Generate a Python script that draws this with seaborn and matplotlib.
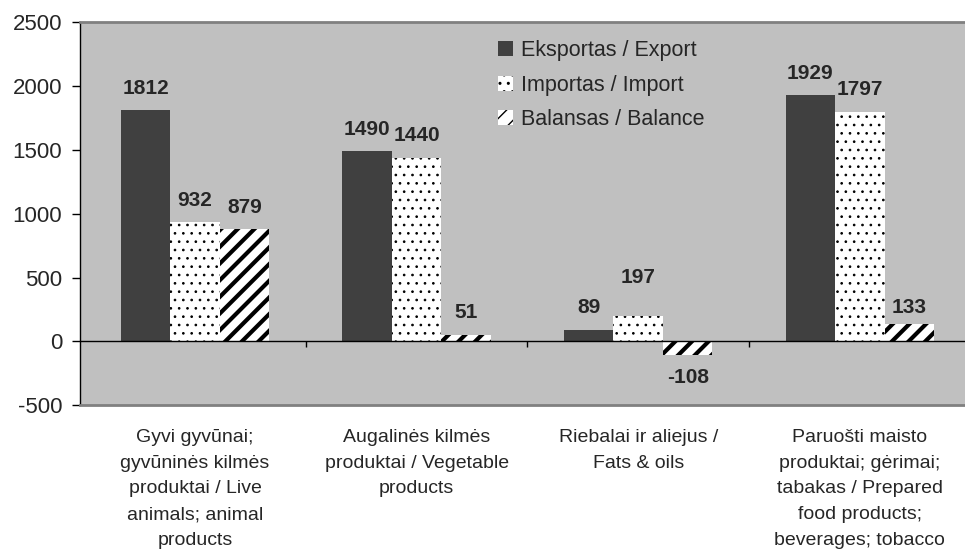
import numpy as np
import pandas as pd
import matplotlib.pyplot as plt
import seaborn as sns

# data
categories = [
    'Gyvi gyvūnai;\ngyvūninės kilmės\nproduktai / Live\nanimals; animal\nproducts',
    'Augalinės kilmės\nproduktai / Vegetable\nproducts',
    'Riebalai ir aliejus /\nFats & oils',
    'Paruošti maisto\nproduktai; gėrimai;\ntabakas / Prepared\nfood products;\nbeverages; tobacco',
]
series = ['Eksportas / Export', 'Importas / Import', 'Balansas / Balance']
export = [1812, 1490, 89, 1929]
imports = [932, 1440, 197, 1797]
balance = [879, 51, -108, 133]

df = pd.DataFrame({
    'category': categories * 3,
    'series': np.repeat(series, len(categories)),
    'value': export + imports + balance,
})

sns.set_style('white')
plt.rcParams['font.family'] = ['Liberation Sans', 'DejaVu Sans']
plt.rcParams['axes.unicode_minus'] = False

fig = plt.figure(figsize=(9.65, 5.55), dpi=100)
ax = fig.add_axes([0.083, 0.27, 0.927, 0.69])

sns.barplot(data=df, x='category', y='value', hue='series',
            palette=['#404040', 'white', 'white'], saturation=1,
            width=0.67, gap=0, errorbar=None, legend=False, ax=ax)

# hatch patterns for import / balance
hatches = [None, '..', '//']
hatch_lw = [1, 0.7, 3]
for cont, h, hl in zip(ax.containers, hatches, hatch_lw):
    for bar in cont:
        bar.set_linewidth(0)
        if h:
            bar.set_edgecolor('black')
            bar.set_hatch(h)
            bar.set_hatch_linewidth(hl)

# value labels (a couple are nudged like in the original)
pad_fix = {197: 21, 133: 5}
for cont, vals in zip(ax.containers, [export, imports, balance]):
    for bar, v in zip(cont, vals):
        pad = pad_fix.get(v, 9)
        ax.annotate(str(v), xy=(bar.get_x() + bar.get_width() / 2, v),
                    xytext=(0, pad if v >= 0 else -pad), textcoords='offset points',
                    ha='center', va='bottom' if v >= 0 else 'top',
                    fontsize=15, fontweight='bold')

ax.set_ylim(-500, 2500)
ax.set_yticks(np.arange(-500, 2501, 500))
ax.set_facecolor('#c0c0c0')
ax.axhline(0, color='black', lw=1)
ax.vlines(np.arange(len(categories) - 1) + 0.5, 0, -45, color='black', lw=1)

for s in ['top', 'bottom']:
    ax.spines[s].set_color('#808080')
    ax.spines[s].set_linewidth(2)
ax.spines['right'].set_visible(False)
ax.spines['left'].set_color('black')
ax.spines['left'].set_linewidth(1)

ax.tick_params(axis='y', left=True, length=6, width=1, color='black',
               labelsize=16, pad=7)
ax.tick_params(axis='x', length=0, labelsize=14, pad=17)
plt.setp(ax.get_xticklabels(), linespacing=1.68)
ax.set_xlabel('')
ax.set_ylabel('')

ax.legend(handles=[c[0] for c in ax.containers], labels=series,
          loc='upper left', bbox_to_anchor=(0.445, 1.003), frameon=False,
          fontsize=15.5, handlelength=0.7, handleheight=0.7,
          handletextpad=0.4, labelspacing=0.62)

plt.savefig('out.png', dpi=100)
